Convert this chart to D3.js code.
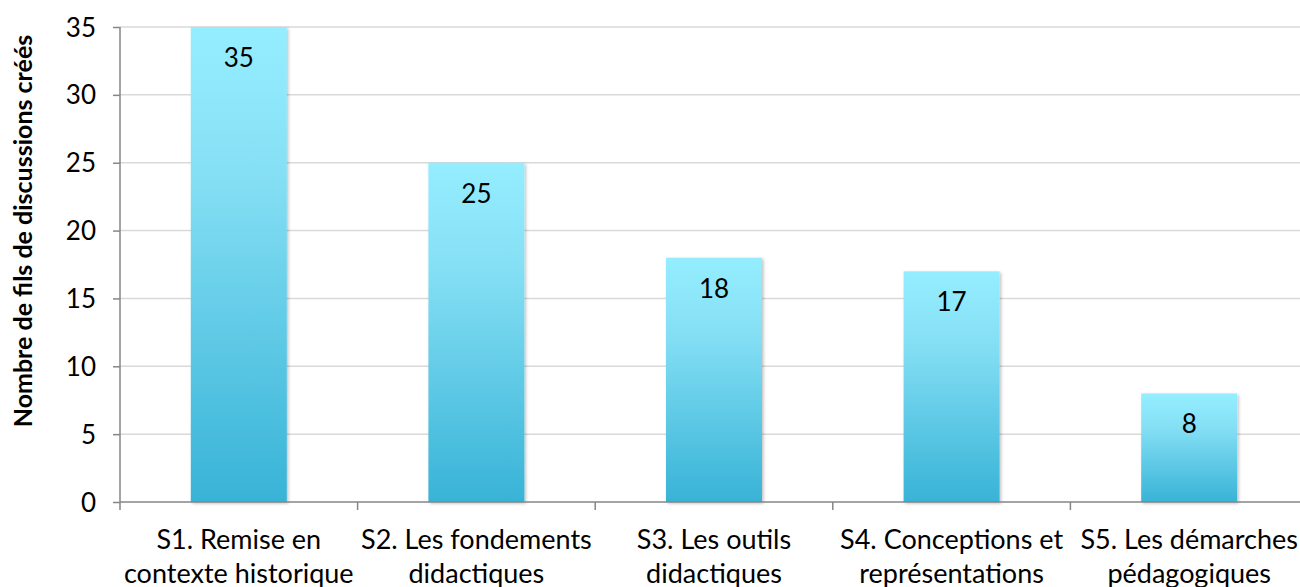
<!DOCTYPE html>
<meta charset="utf-8">
<style>
body { margin: 0; background: #fff; }
text { font-family: Lato, "Noto Sans", sans-serif; fill: #000; }
.grid line { stroke: #d9d9d9; stroke-width: 1.5; }
.axis path, .axis line { stroke: #868686; stroke-width: 1.5; }
</style>
<svg width="1300" height="587"></svg>
<script src="https://cdn.jsdelivr.net/npm/d3@7"></script>
<script>

var categories = [
  ["S1. Remise en", "contexte historique"],
  ["S2. Les fondements", "didactiques"],
  ["S3. Les outils", "didactiques"],
  ["S4. Conceptions et", "représentations"],
  ["S5. Les démarches", "pédagogiques"]
];
var values = [35, 25, 18, 17, 8];
var yTicks = [0, 5, 10, 15, 20, 25, 30, 35];
var yTitle = "Nombre de fils de discussions créés";

var svg = d3.select("svg"),
    plotLeft = 120, plotRight = 1308, plotTop = 27, plotBottom = 502;

var x = d3.scaleBand().domain(d3.range(values.length)).range([plotLeft, plotRight]).paddingInner(0.596).paddingOuter(0.298);
var y = d3.scaleLinear().domain([0, 35]).range([plotBottom, plotTop]);

var defs = svg.append("defs");
var grad = defs.append("linearGradient").attr("id", "barGrad")
    .attr("x1", 0).attr("y1", 0).attr("x2", 0).attr("y2", 1);
grad.append("stop").attr("offset", "0%").attr("stop-color", "#95eeff");
grad.append("stop").attr("offset", "30%").attr("stop-color", "#86e0f5");
grad.append("stop").attr("offset", "100%").attr("stop-color", "#38b3d7");

var shadow = defs.append("filter").attr("id", "shadow")
    .attr("x", "-10%").attr("y", "-10%").attr("width", "130%").attr("height", "130%");
shadow.append("feDropShadow").attr("dx", 1.5).attr("dy", 1.5).attr("stdDeviation", 1.5)
    .attr("flood-color", "#000").attr("flood-opacity", 0.25);

// gridlines
svg.append("g").attr("class", "grid")
  .selectAll("line").data(yTicks.slice(1)).enter().append("line")
    .attr("x1", plotLeft).attr("x2", plotRight)
    .attr("y1", function(d){ return y(d); }).attr("y2", function(d){ return y(d); });

// bars
svg.append("g").selectAll("rect").data(values).enter().append("rect")
    .attr("x", function(d, i){ return x(i); })
    .attr("width", x.bandwidth())
    .attr("y", function(d){ return y(d); })
    .attr("height", function(d){ return y(0) - y(d); })
    .attr("fill", "url(#barGrad)")
    .attr("filter", "url(#shadow)");

// value labels
svg.append("g").selectAll("text").data(values).enter().append("text")
    .attr("x", function(d, i){ return x(i) + x.bandwidth() / 2; })
    .attr("y", function(d){ return y(d) + 40; })
    .attr("text-anchor", "middle")
    .style("font-size", "26px")
    .text(function(d){ return d; });

// y axis
var yAxis = svg.append("g").attr("class", "axis")
    .attr("transform", "translate(" + plotLeft + ",0)")
    .call(d3.axisLeft(y).tickValues(yTicks).tickSize(7).tickPadding(17));
yAxis.select(".domain").attr("d", "M0," + plotTop + "V" + plotBottom);
yAxis.selectAll("text").style("font-size", "26px").attr("dy", "0.35em");

// x axis
var xAxis = svg.append("g").attr("class", "axis")
    .attr("transform", "translate(0," + plotBottom + ")");
xAxis.append("line").attr("x1", plotLeft).attr("x2", plotRight).attr("y1", 0).attr("y2", 0);
var step = x.step();
xAxis.selectAll(".tk").data(d3.range(values.length + 1)).enter().append("line").attr("class", "tk")
    .attr("x1", function(i){ return plotLeft + i * step; })
    .attr("x2", function(i){ return plotLeft + i * step; })
    .attr("y1", 0).attr("y2", 8);

var lab = svg.append("g").selectAll("text").data(categories).enter().append("text")
    .attr("text-anchor", "middle")
    .attr("x", function(d, i){ return x(i) + x.bandwidth() / 2; })
    .attr("y", 549)
    .style("font-size", "27px");
lab.selectAll("tspan").data(function(d){ return d; }).enter().append("tspan")
    .attr("x", function(){ return d3.select(this.parentNode).attr("x"); })
    .attr("dy", function(d, j){ return j ? 34 : 0; })
    .text(function(d){ return d; });

// y title
svg.append("text")
    .attr("transform", "translate(32," + 231 + ") rotate(-90)")
    .attr("text-anchor", "middle")
    .style("font-size", "25px")
    .style("font-weight", "bold")
    .text(yTitle);

</script>
